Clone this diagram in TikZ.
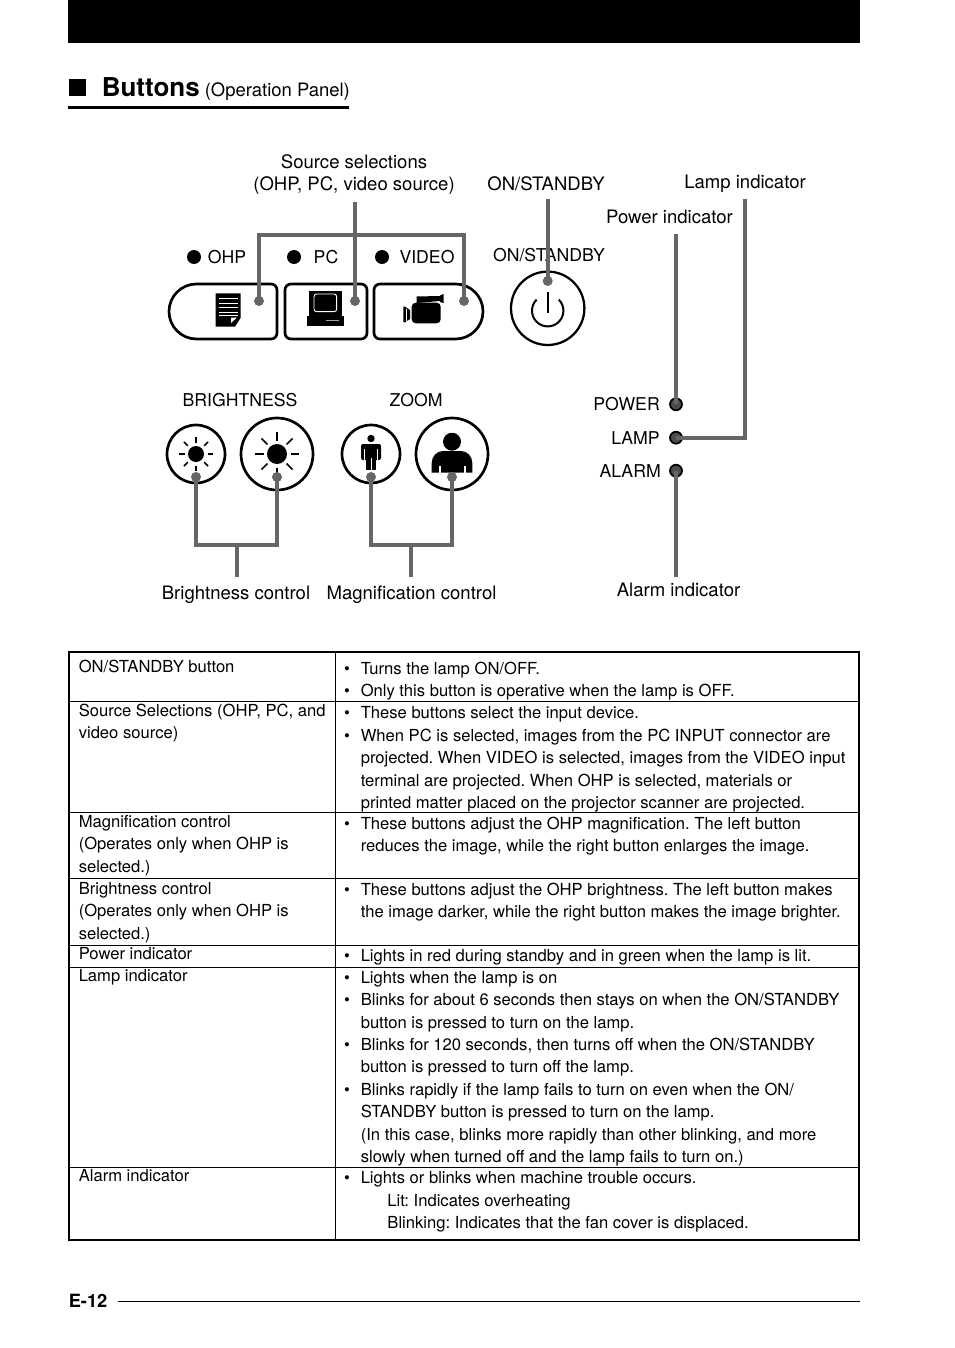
\documentclass[tikz,border=0pt]{standalone}
\usepackage{fontspec}
\setmainfont{TeX Gyre Heros}
\usetikzlibrary{positioning}
\definecolor{leadgray}{HTML}{666666}
\newcommand{\bul}{\makebox[0pt][r]{\textbullet\hspace{8.2pt}}}
\tikzset{
	lbl/.style={anchor=base, inner sep=0pt, font=\fontsize{13.9}{16}\selectfont},
	panel/.style={anchor=base, inner sep=0pt, font=\fontsize{13.25}{15}\selectfont},
	cell/.style={anchor=north west, inner sep=0pt, align=left, font=\fontsize{12.45}{16.8}\selectfont\frenchspacing},
	lead/.style={draw=leadgray, line width=3pt},
	leaddot/.style={circle, fill=leadgray, minimum size=7.5pt, inner sep=0pt},
	led/.style={circle, fill=black, minimum size=10.5pt, inner sep=0pt},
	lamp/.style={circle, draw=black, fill=black!70, line width=1.3pt, minimum size=9pt, inner sep=0pt},
	btn/.style={draw=black, line width=2pt, fill=white},
	grid/.style={draw=black, line width=.8pt}
}
\begin{document}
\begin{tikzpicture}[x=.75pt, y=-.75pt]
	\useasboundingbox (0,0) rectangle (954,1348);
	% header %
	\fill (68,0) rectangle (860,43);
	\fill (69,79) rectangle (86,96);
	\node[anchor=base west, inner sep=0pt, font=\fontsize{19.5}{22}\selectfont\bfseries] (title) at (101.5,96.5) {Buttons};
	\node[anchor=base west, inner sep=0pt, font=\fontsize{13.85}{16}\selectfont] (sub) at (204.5,96.5) {(Operation Panel)};
	\fill (68,106) rectangle (349,109);

	% buttons %
	\draw[btn] (230,284) -- (196.5,284) arc (270:90:27.5) [rounded corners=4.5pt] -- (277,339) -- (277,284) -- cycle;
	\draw[btn, rounded corners=4.5pt] (285,284) rectangle (367,339);
	\draw[btn] (420,339) -- (455.5,339) arc (90:-90:27.5) [rounded corners=4.5pt] -- (374,284) -- (374,339) -- cycle;
	\draw[btn, line width=1.7pt] (547.7,308.3) circle (36.7);
	\draw[btn] (196,454) circle (29);
	\draw[btn] (277,454) circle (36);
	\draw[btn] (371,454) circle (29);
	\draw[btn] (452,454) circle (36);

	% icons %
	\fill (215.7,293.3) -- (240.7,293.3) -- (240.7,317.7) -- (235,326.7) -- (215.7,326.7) -- cycle;
	\fill[white] (231,323) -- (231,317.5) -- (237,317.5) -- cycle;
	\foreach \y in {298.5,303,307.5,312,315.5}
		\draw[white, line width=.7pt] (219,\y) -- (238,\y);
	\fill (309,291) rectangle (341.7,315.5);
	\draw[white, line width=.7pt, rounded corners=2pt] (314,294) rectangle (336.7,311.7);
	\fill (306.7,316) rectangle (344.3,326);
	\draw[leadgray!60, line width=.9pt] (326,320.7) -- (339,320.7);
	\fill[rounded corners=3pt] (411.7,302.7) rectangle (440.7,323.3);
	\fill (416.7,296.5) -- (440,296) -- (440,301) -- (416.7,303) -- cycle;
	\fill (440,295.5) -- (443.5,294) -- (443.5,303) -- (440,302) -- cycle;
	\fill (403.3,306.7) -- (405,306.7) -- (410,310) -- (410,319) -- (405,322.3) -- (403.3,322.3) -- cycle;
	\draw[white, line width=.5pt] (406,308.5) -- (406,320.5);
	% sun and figure icons %
	\foreach \cx/\cr/\ra/\rb in {196/8/11.5/17, 277/10/13.5/22} {
		\fill (\cx,454) circle (\cr);
		\foreach \a in {0,45,...,315}
			\draw[line width=1.3pt] ({\cx+\ra*cos(\a)},{454+\ra*sin(\a)}) -- ({\cx+\rb*cos(\a)},{454+\rb*sin(\a)});
	}
	\fill (371,438.5) circle (3.7);
	\fill[rounded corners=1.5pt] (361,444) rectangle (381,460);
	\fill (366,446) rectangle (376,470);
	\draw[white, line width=.5pt] (371,458) -- (371,470.5);
	\draw[white, line width=.6pt] (364.8,449) -- (364.8,461) (377.2,449) -- (377.2,461);
	\fill (452,441.7) circle (9);
	\fill (431.7,472.7) -- (431.7,463) to[out=90, in=180] (443,451) -- (461,451) to[out=0, in=90] (472.3,463) -- (472.3,472.7) -- cycle;
	\draw[white, line width=.8pt] (440,466) -- (440,473.2) (465,466) -- (465,473.2);
	\draw[line width=1.5pt] (547.7,291.7) -- (547.7,313);
	\draw[line width=1.5pt] (536.6,299.6) arc (-135:-405:15.7);

	% nodes %
	\node[lbl] (source) at (354,168.5) {Source selections};
	\node[lbl] (source2) at (354,190.5) {(OHP, PC, video source)};
	\node[lbl] (onlabel) at (546,190.5) {ON/STANDBY};
	\node[lbl] (lampind) at (745,188.5) {Lamp indicator};
	\node[lbl] (powerind) at (669.5,223.5) {Power indicator};
	\node[panel] (onpanel) at (549,261.5) {ON/STANDBY};
	\node[panel] (ohp) at (227,263) {OHP};
	\node[panel] (pc) at (326,263) {PC};
	\node[panel] (video) at (427,263) {VIDEO};
	\node[led] (ledohp) at (194,257) {};
	\node[led] (ledpc) at (294,257) {};
	\node[led] (ledvideo) at (382,257) {};
	\node[panel] (bright) at (240,406) {BRIGHTNESS};
	\node[panel] (zoom) at (416,406) {ZOOM};
	\node[panel, anchor=base east] (power) at (660,410) {POWER};
	\node[panel, anchor=base east] (lamp) at (660,444) {LAMP};
	\node[panel, anchor=base east] (alarm) at (661,477) {ALARM};
	\node[lamp] (ledpower) at (676,404.3) {};
	\node[lamp] (ledlamp) at (676,437.7) {};
	\node[lamp] (ledalarm) at (676,470.7) {};
	\node[lbl] (brightctl) at (236,599) {Brightness control};
	\node[lbl] (magctl) at (411.5,599) {Magnification control};
	\node[lbl] (alarmind) at (678.5,596) {Alarm indicator};

	% lead dots %
	\node[leaddot] (dohp) at (259,301) {};
	\node[leaddot] (dpc) at (355,301) {};
	\node[leaddot] (dvideo) at (464,301) {};
	\node[leaddot] (don) at (547.7,281) {};
	\node[leaddot] (dbl) at (196,477) {};
	\node[leaddot] (dbr) at (277,477) {};
	\node[leaddot] (dzl) at (371,477) {};
	\node[leaddot] (dzr) at (452,477) {};
	\coordinate (csource) at (355,202);
	\coordinate (con) at (547.7,199);
	\coordinate (cpower) at (676,234);
	\coordinate (clamp) at (745.3,199);
	\coordinate (calarm) at (676,577);
	\coordinate (cbright) at (237,577);
	\coordinate (cmag) at (411,577);

	% edges %
	\draw[lead] (csource) -- (dpc.center);
	\draw[lead] (dohp.center) |- (464,235) -- (dvideo.center);
	\draw[lead] (con) -- (don.center);
	\draw[lead] (cpower) -- (ledpower.center);
	\draw[lead] (clamp) |- (ledlamp.center);
	\draw[lead] (ledalarm.center) -- (calarm);
	\draw[lead] (dbl.center) |- (277,545) -- (dbr.center);
	\draw[lead] (dzl.center) |- (452,545) -- (dzr.center);
	\draw[lead] (cbright) -- (237,545);
	\draw[lead] (cmag) -- (411,545);

	% table %
	\draw[grid] (69,652) rectangle (859,1240);
	\draw[grid] (335.5,652) -- (335.5,1240);
	\foreach \y in {701.5,812.5,878.5,945.5,967.5,1167.5}
		\draw[grid] (69,\y) -- (859,\y);

	\node[cell] (a1) at (78.5,659.5) {ON/STANDBY button};
	\node[cell] (a2) at (78.5,703.5) {Source Selections (OHP, PC, and\\video source)};
	\node[cell] (a3) at (78.5,815) {Magnification control\\(Operates only when OHP is\\selected.)};
	\node[cell] (a4) at (78.5,882) {Brightness control\\(Operates only when OHP is\\selected.)};
	\node[cell] (a5) at (78.5,947.5) {Power indicator};
	\node[cell] (a6) at (78.5,969.5) {Lamp indicator};
	\node[cell] (a7) at (78.5,1169.5) {Alarm indicator};

	\node[cell] (b1) at (360.5,661.5) {\bul Turns the lamp ON/OFF.\\\bul Only this button is operative when the lamp is OFF.};
	\node[cell] (b2) at (360.5,706.5) {\bul These buttons select the input device.\\\bul When PC is selected, images from the PC INPUT connector are\\projected. When VIDEO is selected, images from the VIDEO input\\terminal are projected. When OHP is selected, materials or\\printed matter placed on the projector scanner are projected.};
	\node[cell] (b3) at (360.5,816.5) {\bul These buttons adjust the OHP magnification. The left button\\reduces the image, while the right button enlarges the image.};
	\node[cell] (b4) at (360.5,882.5) {\bul These buttons adjust the OHP brightness. The left button makes\\the image darker, while the right button makes the image brighter.};
	\node[cell] (b5) at (360.5,949.5) {\bul Lights in red during standby and in green when the lamp is lit.};
	\node[cell] (b6) at (360.5,971) {\bul Lights when the lamp is on\\\bul Blinks for about 6 seconds then stays on when the ON/STANDBY\\button is pressed to turn on the lamp.\\\bul Blinks for 120 seconds, then turns off when the ON/STANDBY\\button is pressed to turn off the lamp.\\\bul Blinks rapidly if the lamp fails to turn on even when the ON/\\STANDBY button is pressed to turn on the lamp.\\(In this case, blinks more rapidly than other blinking, and more\\slowly when turned off and the lamp fails to turn on.)};
	\node[cell] (b7) at (360.5,1171.5) {\bul Lights or blinks when machine trouble occurs.\\\hspace{20pt}Lit: Indicates overheating\\\hspace{20pt}Blinking: Indicates that the fan cover is displaced.};

	% footer %
	\node[anchor=base west, inner sep=0pt, font=\fontsize{13.7}{15}\selectfont\bfseries] (page) at (68.5,1307) {E-12};
	\draw[line width=.8pt] (118,1301.5) -- (860,1301.5);
\end{tikzpicture}
\end{document}
